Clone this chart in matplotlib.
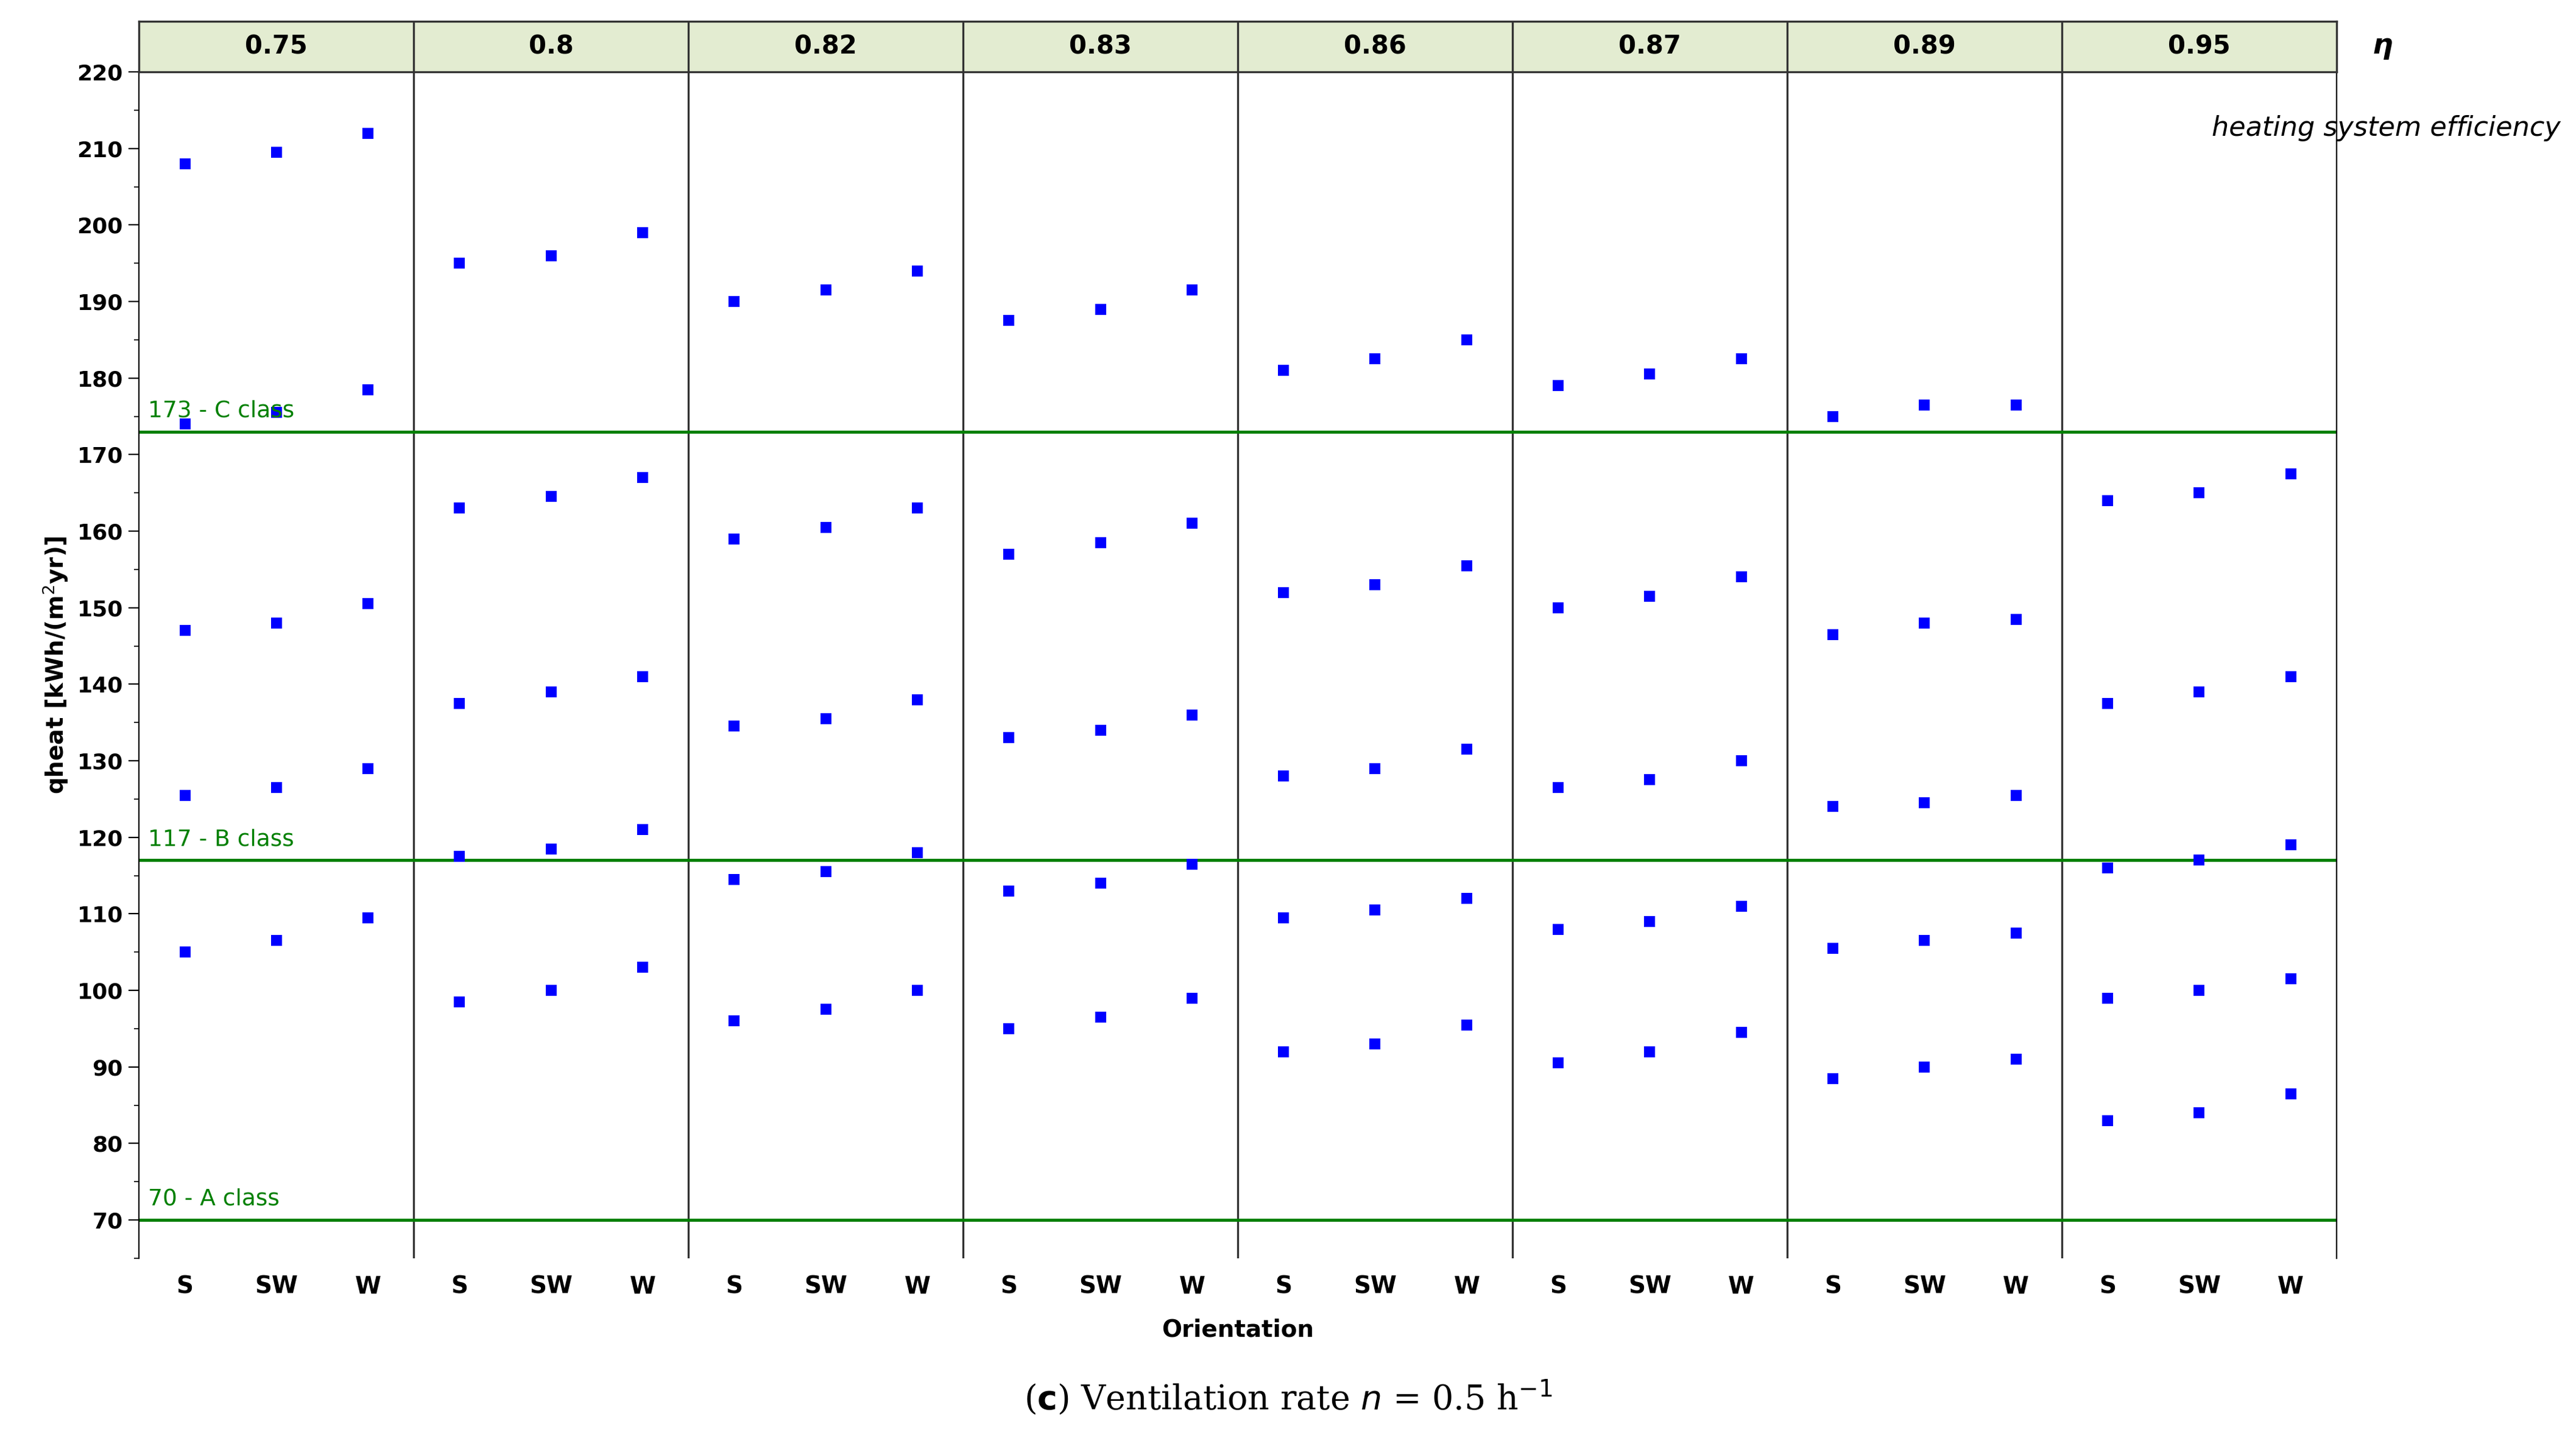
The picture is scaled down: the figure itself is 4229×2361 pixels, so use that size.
import numpy as np
import matplotlib.pyplot as plt

# heating system efficiency panels
eta = ['0.75', '0.8', '0.82', '0.83', '0.86', '0.87', '0.89', '0.95']
orient = ['S', 'SW', 'W']

# qheat values per panel: rows = S, SW, W ; 5 cases each
q = {
    '0.75': [[208, 174, 147, 125.5, 105], [209.5, 175.5, 148, 126.5, 106.5], [212, 178.5, 150.5, 129, 109.5]],
    '0.8':  [[195, 163, 137.5, 117.5, 98.5], [196, 164.5, 139, 118.5, 100], [199, 167, 141, 121, 103]],
    '0.82': [[190, 159, 134.5, 114.5, 96], [191.5, 160.5, 135.5, 115.5, 97.5], [194, 163, 138, 118, 100]],
    '0.83': [[187.5, 157, 133, 113, 95], [189, 158.5, 134, 114, 96.5], [191.5, 161, 136, 116.5, 99]],
    '0.86': [[181, 152, 128, 109.5, 92], [182.5, 153, 129, 110.5, 93], [185, 155.5, 131.5, 112, 95.5]],
    '0.87': [[179, 150, 126.5, 108, 90.5], [180.5, 151.5, 127.5, 109, 92], [182.5, 154, 130, 111, 94.5]],
    '0.89': [[175, 146.5, 124, 105.5, 88.5], [176.5, 148, 124.5, 106.5, 90], [176.5, 148.5, 125.5, 107.5, 91]],
    '0.95': [[164, 137.5, 116, 99, 83], [165, 139, 117, 100, 84], [167.5, 141, 119, 101.5, 86.5]],
}

class_lines = [173, 117, 70]
class_labels = ['173 - C class', '117 - B class', '70 - A class']

fig = plt.figure(figsize=(21.145, 11.805), dpi=200)
L, R, B, T, HT = 0.054, 0.907, 0.125, 0.950, 0.985
ax = fig.add_axes([L, B, R - L, T - B])
hx = fig.add_axes([L, T, R - L, HT - T])

n = len(eta)
for i, e in enumerate(eta):
    for j in range(3):
        x = np.full(5, i * 3 + j)
        ax.scatter(x, q[e][j], marker='s', s=45, color='#0000ff', zorder=3, linewidths=0)
    if i > 0:
        ax.axvline(i * 3 - 0.5, color='#333333', lw=1.2)
        hx.axvline(i * 3 - 0.5, color='#333333', lw=1.2)
    hx.text(i * 3 + 1, 0.5, e, ha='center', va='center', fontsize=15, fontweight='bold')

for v, lab in zip(class_lines, class_labels):
    ax.axhline(v, color='#008000', lw=1.8, zorder=2)
    ax.text(-0.4, v + 1.3, lab, color='#008000', fontsize=13.5, ha='left', va='bottom')

ax.set_xlim(-0.5, n * 3 - 0.5)
ax.set_ylim(65, 220)
ax.set_yticks(np.arange(70, 221, 10))
ax.set_yticks(np.arange(65, 221, 5), minor=True)
ax.set_xticks(np.arange(n * 3))
ax.set_xticklabels(orient * n, fontweight='bold', fontsize=14)
for t in ax.get_yticklabels():
    t.set_fontweight('bold'); t.set_fontsize(13)
ax.tick_params(axis='x', length=0, pad=10)
ax.tick_params(axis='y', which='major', length=6)
ax.tick_params(axis='y', which='minor', length=3)
ax.spines['top'].set_visible(False)
ax.spines['bottom'].set_visible(False)
ax.set_xlabel('Orientation', fontweight='bold', fontsize=14, labelpad=12)
ax.set_ylabel('qheat [kWh/(m$^2$yr)]', fontweight='bold', fontsize=14)

hx.set_facecolor('#e3ecd1')
hx.set_xlim(-0.5, n * 3 - 0.5)
hx.set_ylim(0, 1)
hx.set_xticks([]); hx.set_yticks([])
for s in hx.spines.values():
    s.set_color('#333333'); s.set_linewidth(1.2)

fig.text(0.925, 0.968, 'η', fontsize=17, fontweight='bold', style='italic', ha='center', va='center')
fig.text(0.994, 0.911, 'heating system efficiency', fontsize=16, style='italic', ha='right', va='center')
fig.text(0.5, 0.028, r'($\mathbf{c}$) Ventilation rate $n$ = 0.5 h$^{-1}$',
         fontsize=20, family='DejaVu Serif', ha='center', va='center')

fig.savefig('out.png', dpi=200)
